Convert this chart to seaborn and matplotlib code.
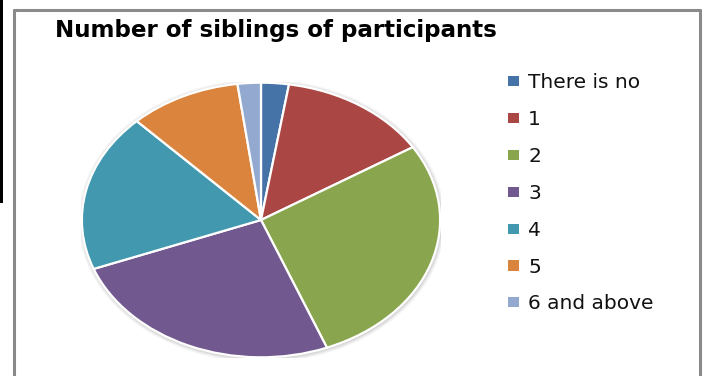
import matplotlib
matplotlib.use("Agg")
import matplotlib.pyplot as plt
from matplotlib.patches import Rectangle, Patch, Ellipse
from matplotlib.lines import Line2D
import seaborn as sns

# Share of participants by number of siblings (%)
categories = ["There is no", "1", "2", "3", "4", "5", "6 and above"]
shares = [2.5, 13.6, 27.9, 25.2, 18.6, 10.1, 2.1]
title = "Number of siblings of participants"

sns.set_theme(style="white")
plt.rcParams["font.family"] = ["DejaVu Sans"]

palette = sns.color_palette(
    ["#4572A7", "#AA4643", "#89A54E", "#71588F", "#4198AF", "#DB843D", "#93A9CF"]
)

W, H = 703, 376
fig = plt.figure(figsize=(W / 100, H / 100), dpi=100)
fig.patch.set_facecolor("white")

# chart frame
frame = [
    Line2D([14 / W, 14 / W], [0, 1 - 10 / H], color="#8a8a8a", lw=2.2),
    Line2D([14 / W, 700 / W], [1 - 10 / H, 1 - 10 / H], color="#8a8a8a", lw=2.2),
    Line2D([700 / W, 700 / W], [0, 1 - 10 / H], color="#8a8a8a", lw=2.2),
]
for ln in frame:
    fig.add_artist(ln)
fig.add_artist(Rectangle((0, 1 - 203 / H), 2.5 / W, 203 / H, transform=fig.transFigure,
                         color="black", lw=0))

# pie area (slightly wider than tall)
x0, x1, y0, y1 = 81, 441, 82, 358
ax = fig.add_axes([x0 / W, 1 - y1 / H, (x1 - x0) / W, (y1 - y0) / H])
# soft drop shadow under the pie
for i, a in enumerate([0.05, 0.05, 0.04, 0.03]):
    ax.add_patch(Ellipse((0.004, -0.006), 2 + 0.012 * (i + 1), 2 + 0.016 * (i + 1),
                         facecolor="black", alpha=a, lw=0, zorder=0))
ax.pie(shares, colors=palette, startangle=90, counterclock=False,
       wedgeprops=dict(edgecolor="white", linewidth=1.6, zorder=2))
ax.set_aspect("auto")
ax.set_xlim(-1.005, 1.005)
ax.set_ylim(-1.005, 1.005)
ax.axis("off")

fig.text(55 / W, 1 - 37 / H, title, fontsize=16.6, fontweight="bold",
         color="black", ha="left", va="baseline")

handles = [Patch(facecolor=c, edgecolor="none") for c in palette]
fig.legend(handles, categories, loc="upper left",
           bbox_to_anchor=(508 / W, 1 - 73.5 / H), frameon=False,
           fontsize=14.5, handlelength=0.55, handleheight=0.4,
           handletextpad=0.45, labelspacing=0.885, borderaxespad=0,
           borderpad=0, labelcolor="#111111")

fig.savefig("out.png", dpi=100, facecolor="white")
